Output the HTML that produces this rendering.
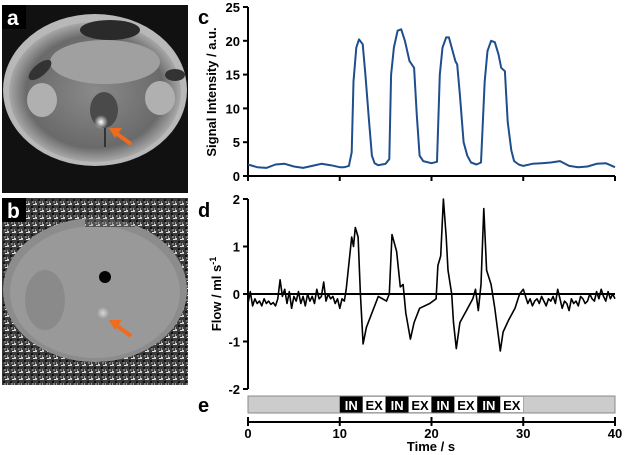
<!DOCTYPE html>
<html><head><meta charset="utf-8"><style>
body{margin:0;background:#fff;width:625px;height:455px;overflow:hidden;font-family:"Liberation Sans",Arial,sans-serif}
svg{position:absolute;left:0;top:0}
text{font-family:"Liberation Sans",Arial,sans-serif;font-weight:bold}
</style></head><body>
<svg width="625" height="455" viewBox="0 0 625 455">
<defs>
<radialGradient id="gA" cx="50%" cy="50%" r="50%"><stop offset="0" stop-color="#8a8a8a"/><stop offset="0.8" stop-color="#6a6a6a"/><stop offset="1" stop-color="#a8a8a8"/></radialGradient>
<radialGradient id="spot" cx="50%" cy="50%" r="50%"><stop offset="0" stop-color="#fff"/><stop offset="1" stop-color="#fff" stop-opacity="0"/></radialGradient>
<pattern id="noise" width="7" height="7" patternUnits="userSpaceOnUse"><rect width="7" height="7" fill="#3a3a3a"/><rect width="2" height="2" fill="#ccc"/><rect x="3" y="3" width="2" height="2" fill="#111"/><rect x="5" y="1" width="2" height="1" fill="#e8e8e8"/><rect x="0" y="5" width="1" height="2" fill="#999"/><rect x="4" y="5" width="2" height="2" fill="#777"/></pattern>
</defs>
<g>
<rect x="2" y="5" width="186" height="188" fill="#111"/>
<ellipse cx="95" cy="90" rx="92" ry="76" fill="#b8b8b8"/>
<ellipse cx="95" cy="92" rx="86" ry="70" fill="url(#gA)"/>
<ellipse cx="105" cy="62" rx="55" ry="22" fill="#a0a0a0"/>
<ellipse cx="110" cy="30" rx="30" ry="10" fill="#2a2a2a"/>
<ellipse cx="40" cy="70" rx="14" ry="6" fill="#333" transform="rotate(-40 40 70)"/>
<ellipse cx="175" cy="75" rx="10" ry="6" fill="#333"/>
<ellipse cx="42" cy="100" rx="15" ry="17" fill="#b0b0b0"/>
<ellipse cx="160" cy="98" rx="15" ry="17" fill="#b0b0b0"/>
<ellipse cx="104" cy="110" rx="14" ry="18" fill="#4a4a4a"/>
<circle cx="101" cy="122" r="7" fill="url(#spot)"/>
<path d="M105 128 L105 147" stroke="#333" stroke-width="2"/>
<rect x="2" y="5" width="24" height="24" fill="#000"/>
<text x="7" y="25" font-size="21" fill="#fff">a</text>
<path d="M131 144 L113 131" stroke="#f26a1b" stroke-width="4"/><path d="M109 128 L122 128 L115 138 Z" fill="#f26a1b"/>
</g>
<g>
<rect x="2" y="198" width="186" height="187" fill="url(#noise)"/>
<ellipse cx="95" cy="290" rx="92" ry="72" fill="#8c8c8c"/>
<ellipse cx="95" cy="292" rx="85" ry="66" fill="#999"/>
<ellipse cx="45" cy="300" rx="20" ry="30" fill="#8a8a8a"/>
<rect x="85" y="215" width="50" height="12" fill="url(#noise)" opacity="0.7"/>
<circle cx="105" cy="277" r="6" fill="#050505"/>
<circle cx="103" cy="313" r="6" fill="url(#spot)" opacity="0.6"/>
<rect x="2" y="198" width="24" height="24" fill="#000"/>
<text x="7" y="218" font-size="21" fill="#fff">b</text>
<path d="M131 336 L113 323" stroke="#f26a1b" stroke-width="4"/><path d="M109 320 L122 320 L115 330 Z" fill="#f26a1b"/>
</g>
<text x="198" y="24" font-size="20">c</text>
<text x="198" y="217" font-size="20">d</text>
<text x="198" y="412" font-size="20">e</text>
<text transform="translate(216,92) rotate(-90)" text-anchor="middle" font-size="13">Signal Intensity / a.u.</text>
<text transform="translate(221,294) rotate(-90)" text-anchor="middle" font-size="13">Flow / ml s<tspan dy="-5" font-size="9">-1</tspan></text>
<text x="431" y="451" text-anchor="middle" font-size="13">Time / s</text>
<g id="sig"></g><g id="flow"></g><g id="bar"></g><g id="xax"></g>
</svg>
<script>
const sigTimes=[0,1,2,3,4,5,6,7,8,9,10,10.5,11,11.3,11.5,11.8,12.1,12.5,12.8,13.2,13.5,13.8,14.2,15,15.4,15.6,15.9,16.3,16.7,17.1,17.6,18.1,18.4,18.7,19.1,20,20.6,20.9,21.2,21.6,21.9,22.2,22.6,22.8,23.1,23.5,23.9,24.3,24.9,25.4,25.8,26.1,26.5,26.9,27.3,27.6,28,28.3,28.7,29,29.5,30,31,32,33,34,35,36,37,38,39,40];
const sigValues=[1.7,1.3,1.2,1.7,1.8,1.4,1.2,1.5,1.8,1.6,1.3,1.3,1.5,3.5,14,19,20.2,19.5,15,8,3,1.9,1.6,1.8,2.5,15,19,21.5,21.7,20,17,16,9,3,2.2,1.9,2.1,15,19,20.5,20.5,19,17,16.5,12,5,3,2,1.7,2,14,18.5,20,19.8,18,16,15.5,8,3.8,2.2,1.7,1.5,1.8,1.9,2,2.2,1.5,1.3,1.4,1.8,1.9,1.3];
const sigTicks=[0,5,10,15,20,25];
const flowPre=[-0.2,0.05,-0.25,-0.1,-0.2,-0.15,-0.25,-0.1,-0.2,-0.15,-0.22,-0.18,-0.25,-0.1,0.3,-0.05,0.1,-0.2,0.05,-0.3,-0.05,-0.15,0.05,-0.2,-0.05,-0.25,0,-0.15,-0.05,-0.2,0.1,-0.1,-0.05,0.25,-0.15,0,-0.1,-0.05,-0.2,-0.1,-0.3,-0.1,-0.15];
const flowMidTimes=[10.7,11.3,11.5,11.7,12.0,12.25,12.55,12.9,13.5,14.2,15.1,15.4,15.7,16.2,16.6,16.9,17.2,17.7,18.1,18.7,19.8,20.5,20.7,21.0,21.3,21.6,21.8,22.2,22.4,22.7,23.1,23.8,24.5,24.8,25.1,25.4,25.7,26.0,26.5,26.9,27.3,27.5,27.8,28.4,29.1,29.6,30.0];
const flowMidValues=[0.1,1.2,1.0,1.4,1.2,0,-1.05,-0.7,-0.4,-0.05,-0.15,0,1.25,0.9,0.15,0.2,-0.4,-0.95,-0.6,-0.3,-0.2,-0.1,0.6,0.8,2.0,1.2,0.5,0,-0.6,-1.15,-0.6,-0.35,-0.1,0.1,-0.35,0.2,1.8,0.5,0.2,-0.3,-0.9,-1.2,-0.8,-0.55,-0.3,0,0.1];
const flowPost=[-0.2,-0.1,-0.25,-0.15,-0.1,-0.2,-0.05,-0.15,-0.25,-0.1,-0.15,-0.05,-0.2,0.1,-0.1,-0.3,-0.15,-0.2,-0.35,-0.1,-0.2,-0.15,-0.25,-0.05,-0.1,-0.2,-0.15,0,-0.1,-0.15,0.05,-0.1,0.1,-0.05,-0.15,0.05,-0.1,0,-0.1];
const flowTicks=[-2,-1,0,1,2];
const timeTicks=[0,10,20,30,40];
const phaseLabels=["IN","EX","IN","EX","IN","EX","IN","EX"];
const phaseStarts=[10,12.5,15,17.5,20,22.5,25,27.5];
const phaseLen=2.5;
const NS="http://www.w3.org/2000/svg";
const X0=248,X1=615;
const xs=t=>X0+(t/40)*(X1-X0);
const ySig=v=>176-v/25*169;
const yFlow=v=>294-v*47.5;
function el(tag,attrs,parent,txt){const e=document.createElementNS(NS,tag);for(const k in attrs)e.setAttribute(k,attrs[k]);if(txt!==undefined)e.textContent=txt;parent.appendChild(e);return e;}
const gs=document.getElementById('sig');
let ax=el('path',{d:`M${X0} 7 V176 H${X1}`,fill:'none',stroke:'#000','stroke-width':2},gs);


sigTicks.forEach(v=>{el('path',{d:`M${X0-5} ${ySig(v)} H${X0}`,stroke:'#000','stroke-width':2},gs);
 const t=el('text',{x:X0-8,y:ySig(v)+5,'text-anchor':'end','font-size':13},gs,String(v));
 
 });
timeTicks.forEach(v=>el('path',{d:`M${xs(v)} 176 V181`,stroke:'#000','stroke-width':2},gs));
let sp=el('path',{d:sigTimes.map((t,i)=>(i?'L':'M')+xs(t).toFixed(1)+' '+ySig(sigValues[i]).toFixed(1)).join(''),fill:'none',stroke:'#1f4e8c','stroke-width':2,'stroke-linejoin':'round'},gs);


const gf=document.getElementById('flow');
const fT=[],fV=[];
flowPre.forEach((v,i)=>{fT.push(i*0.25);fV.push(v);});
flowMidTimes.forEach((t,i)=>{fT.push(t);fV.push(flowMidValues[i]);});
flowPost.forEach((v,i)=>{fT.push(30.5+i*0.25);fV.push(v);});
let fa=el('path',{d:`M${X0} 199 V389`,fill:'none',stroke:'#000','stroke-width':2},gf);


flowTicks.forEach(v=>{el('path',{d:`M${X0-5} ${yFlow(v)} H${X0}`,stroke:'#000','stroke-width':2},gf);
 const t=el('text',{x:X0-8,y:yFlow(v)+5,'text-anchor':'end','font-size':13},gf,String(v));
 
 });
let zl=el('path',{d:`M${X0} ${yFlow(0)} H${X1}`,stroke:'#000','stroke-width':2},gf);


let fp=el('path',{d:fT.map((t,i)=>(i?'L':'M')+xs(t).toFixed(1)+' '+yFlow(fV[i]).toFixed(1)).join(''),fill:'none',stroke:'#000','stroke-width':1.6,'stroke-linejoin':'round'},gf);


const gb=document.getElementById('bar');
let br=el('rect',{x:X0,y:396,width:X1-X0,height:17,fill:'#cccccc',stroke:'#888','stroke-width':1},gb);


phaseLabels.forEach((lab,i)=>{const x=xs(phaseStarts[i]),w=xs(phaseStarts[i]+phaseLen)-x;const isIn=lab==='IN';
 const r=el('rect',{x:x,y:396.5,width:w,height:16,fill:isIn?'#000':'#fff',stroke:isIn?'none':'#888','stroke-width':0.5},gb);
 
 
 const t=el('text',{x:x+w/2,y:410,'text-anchor':'middle','font-size':13,fill:isIn?'#fff':'#000'},gb,lab);
 
 });
const gx=document.getElementById('xax');
let xa=el('path',{d:`M${X0} 422 H${X1}`,stroke:'#000','stroke-width':2},gx);


timeTicks.forEach(v=>{el('path',{d:`M${xs(v)} 417 V426`,stroke:'#000','stroke-width':2},gx);
 const t=el('text',{x:xs(v),y:438,'text-anchor':'middle','font-size':13},gx,String(v));
 
 });
</script>
</body></html>
